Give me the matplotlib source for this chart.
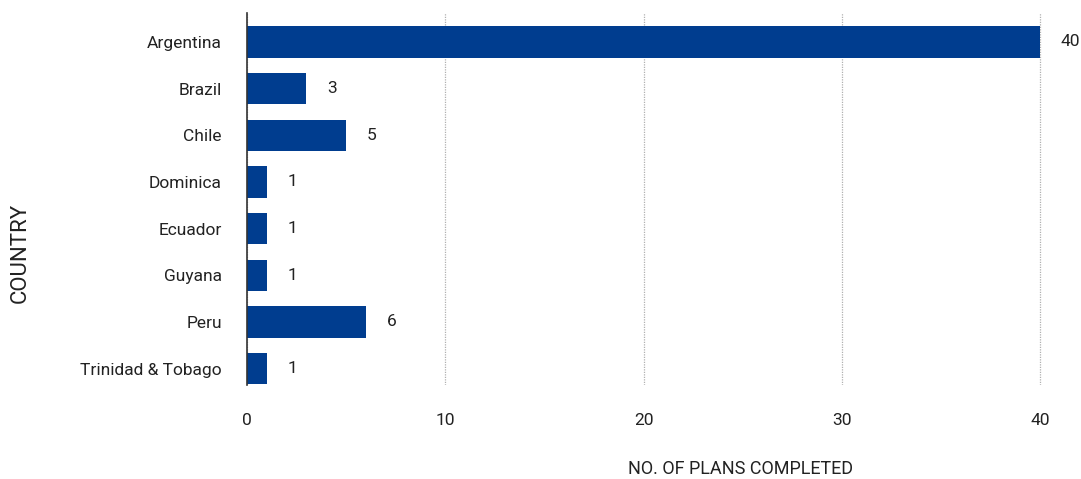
import matplotlib.pyplot as plt

plt.rcParams['font.family'] = ['Roboto', 'DejaVu Sans']

countries = ["Argentina", "Brazil", "Chile", "Dominica", "Ecuador", "Guyana",
             "Peru", "Trinidad & Tobago"]
plans = [40, 3, 5, 1, 1, 1, 6, 1]

fig = plt.figure(figsize=(10.81, 4.79), dpi=100)
ax = fig.add_axes([247 / 1081, 1 - 385 / 479, 800 / 1081, 372 / 479])

pos = list(range(len(countries)))
ax.barh(pos, plans, height=0.67, color='#003d8f', zorder=3)

# value labels to the right of each bar
for p, v in zip(pos, plans):
    ax.annotate(str(v), (v, p), xytext=(15, 0), textcoords='offset points',
                va='center', ha='left', fontsize=12.5, color='#222222')

ax.set_yticks(pos)
ax.set_yticklabels(countries)
ax.set_ylim(7.35, -0.62)
ax.set_xlim(0, 40.35)
ax.set_xticks([0, 10, 20, 30, 40])

ax.grid(axis='x', linestyle=(0, (1, 1)), color='#b0b0b0', linewidth=0.9, zorder=0)
ax.grid(axis='y', visible=False)

for s in ['top', 'right', 'bottom']:
    ax.spines[s].set_visible(False)
ax.spines['left'].set_color('#333333')
ax.spines['left'].set_linewidth(1.2)
ax.spines['left'].set_zorder(4)

ax.tick_params(axis='both', length=0, labelsize=12.5, colors='#222222')
ax.tick_params(axis='x', pad=20)
ax.tick_params(axis='y', pad=18)

ax.set_xlabel('NO. OF PLANS COMPLETED', fontsize=13, color='#222222', va='center')
ax.xaxis.set_label_coords(0.6175, -0.226)
ax.set_ylabel('COUNTRY', fontsize=16, color='#222222', va='center')
ax.yaxis.set_label_coords(-0.284, 0.355)

fig.savefig('out.png', dpi=100)
